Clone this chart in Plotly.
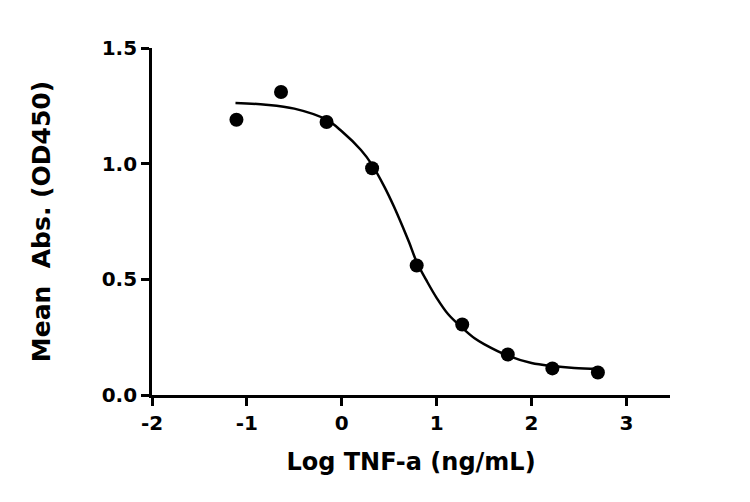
import plotly.graph_objects as go

# measured points (log concentration vs mean absorbance)
log_conc = [-1.11, -0.64, -0.16, 0.32, 0.79, 1.27, 1.75, 2.22, 2.70]
mean_abs = [1.19, 1.31, 1.18, 0.98, 0.56, 0.305, 0.175, 0.115, 0.097]

# fitted curve
fit_x = [-1.12, -0.8, -0.5, -0.16, 0.0, 0.2, 0.32, 0.45, 0.55, 0.65, 0.71, 0.79,
         0.9, 1.0, 1.12, 1.27, 1.4, 1.5, 1.75, 2.0, 2.22, 2.45, 2.70]
fit_y = [1.262, 1.255, 1.238, 1.19, 1.14, 1.06, 0.995, 0.90, 0.815, 0.72, 0.66, 0.575,
         0.49, 0.42, 0.35, 0.29, 0.245, 0.22, 0.17, 0.138, 0.125, 0.117, 0.113]

x_ticks = [-2, -1, 0, 1, 2, 3]
x_ticklabels = ["-2", "-1", "0", "1", "2", "3"]
y_ticks = [0, 0.5, 1.0, 1.5]
y_ticklabels = ["0.0", "0.5", "1.0", "1.5"]

font_main = "DejaVu Sans"

fig = go.Figure()
fig.add_trace(go.Scatter(
    x=fit_x, y=fit_y, mode="lines",
    line=dict(color="black", width=2.5, shape="spline", smoothing=1.0),
    hoverinfo="skip"
))
fig.add_trace(go.Scatter(
    x=log_conc, y=mean_abs, mode="markers",
    marker=dict(color="black", size=14, symbol="circle")
))

tick_font = dict(family=font_main, size=20, color="black", weight="bold")
x_title_font = dict(family=font_main, size=24, color="black", weight="bold")
y_title_font = dict(family=font_main, size=25, color="black", weight="bold")

# the page body adds 8px, so left/top margins are 8px smaller than measured
fig.update_layout(
    width=750, height=502,
    paper_bgcolor="white", plot_bgcolor="white",
    showlegend=False,
    margin=dict(l=144, r=88, t=40, b=115),
    font=dict(family=font_main, color="black"),
    xaxis=dict(
        range=[-2, 3.46], tickvals=x_ticks, ticktext=x_ticklabels,
        showline=True, linecolor="black", linewidth=2.7,
        ticks="outside", ticklen=8, tickwidth=2.7, tickcolor="black",
        showgrid=False, zeroline=False,
        tickfont=tick_font,
        title=dict(text="Log TNF-a (ng/mL)", font=x_title_font, standoff=20),
    ),
    yaxis=dict(
        range=[0, 1.5], tickvals=y_ticks, ticktext=y_ticklabels,
        showline=True, linecolor="black", linewidth=2.7,
        ticks="outside", ticklen=8, tickwidth=2.7, tickcolor="black",
        showgrid=False, zeroline=False,
        tickfont=tick_font,
        title=dict(text="Mean  Abs. (OD450)", font=y_title_font, standoff=44),
    ),
)

fig.write_html("out.html")
